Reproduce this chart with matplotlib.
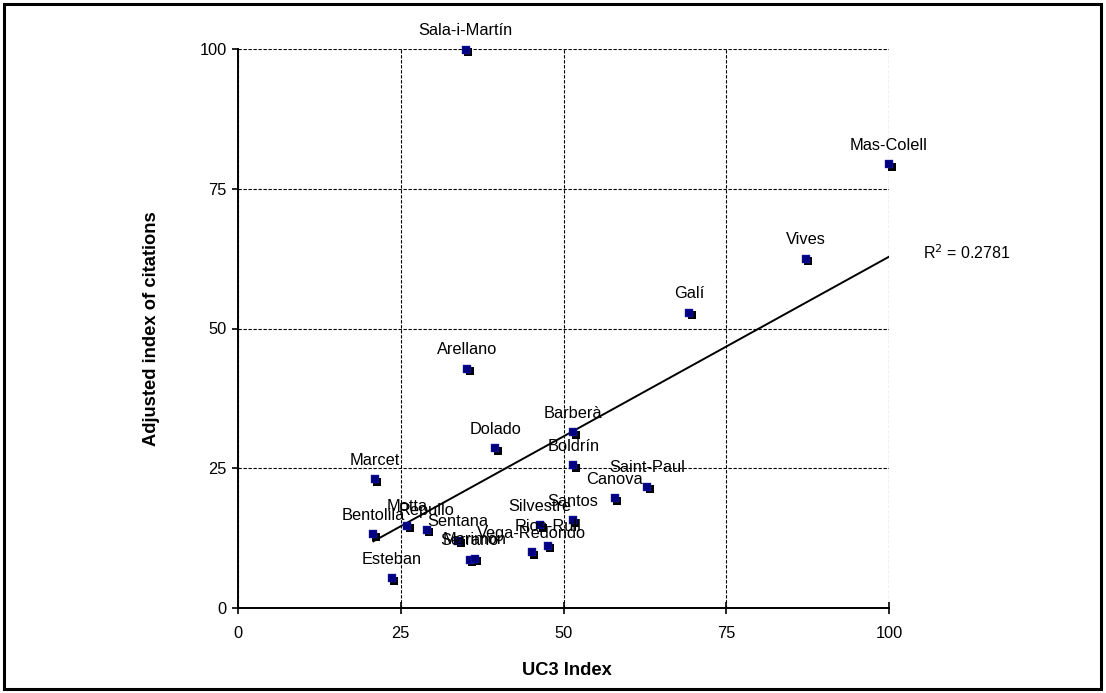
import numpy as np
import matplotlib
matplotlib.use("Agg")
import matplotlib.pyplot as plt
import matplotlib.transforms as mtransforms
from matplotlib.patches import Rectangle

plt.rcParams['font.family'] = ['Liberation Sans', 'DejaVu Sans']

# data
names = ['Sala-i-Martín', 'Mas-Colell', 'Vives', 'Galí', 'Arellano', 'Dolado',
         'Barberà', 'Boldrín', 'Marcet', 'Saint-Paul', 'Canova', 'Santos',
         'Silvestre', 'Rios-Rull', 'Vega-Redondo', 'Motta', 'Repullo',
         'Bentolila', 'Sentana', 'Serrano', 'Marimón', 'Esteban']
uc3 = [35.0, 100.0, 87.2, 69.3, 35.2, 39.5,
       51.5, 51.5, 21.0, 62.9, 57.9, 51.4,
       46.4, 47.6, 45.1, 26.0, 29.0,
       20.8, 33.8, 35.6, 36.4, 23.6]
citations = [99.9, 79.4, 62.5, 52.8, 42.8, 28.6,
             31.4, 25.5, 23.0, 21.7, 19.6, 15.7,
             14.8, 11.1, 10.0, 14.7, 14.0,
             13.2, 12.0, 8.6, 8.8, 5.3]
ticks = [0, 25, 50, 75, 100]
r2_text = 0.2781

x = np.array(uc3)
y = np.array(citations)

fig = plt.figure(figsize=(11.06, 6.93), dpi=100)
ax = fig.add_axes([238/1106, 85/693, 651/1106, 559/693])

ax.set_xlim(0, 100)
ax.set_ylim(0, 100)
ax.set_xticks(ticks)
ax.set_yticks(ticks)
ax.grid(True, color='black', linestyle=(0, (3, 1.5)), linewidth=0.8)
ax.set_axisbelow(True)
for s in ['top', 'right']:
    ax.spines[s].set_visible(False)
for s in ['left', 'bottom']:
    ax.spines[s].set_linewidth(1.4)
ax.tick_params(axis='x', direction='inout', length=8, width=1.2, pad=9, labelsize=11.8)
ax.tick_params(axis='y', direction='out', length=4, width=1.2, pad=4, labelsize=11.8)

ax.set_xlabel('UC3 Index', fontsize=13.2, fontweight='bold')
ax.set_ylabel('Adjusted index of citations', fontsize=13.2, fontweight='bold')
ax.xaxis.set_label_coords(0.505, -0.097)
ax.yaxis.set_label_coords(-0.12, 0.5)

# linear trendline
slope, intercept = np.polyfit(x, y, 1)
xs = np.array([x.min(), x.max()])
ax.plot(xs, slope * xs + intercept, color='black', lw=1.4, zorder=3)

# markers with drop shadow
shadow = ax.transData + mtransforms.ScaledTranslation(2.5/100, -2.5/100, fig.dpi_scale_trans)
ax.plot(x, y, 's', color='black', ms=5.5, mew=0, transform=shadow, clip_on=False, zorder=4)
ax.plot(x, y, 's', color='#000080', ms=5.5, mew=0.3, mec='#3030c0', clip_on=False, zorder=5)

for n, xi, yi in zip(names, uc3, citations):
    ax.annotate(n, (xi, yi), xytext=(0, 10.5), textcoords='offset points',
                ha='center', va='baseline', fontsize=11.8, zorder=6,
                annotation_clip=False)

ax.text(923/1106, (693-253)/693, 'R$^2$ = %.4f' % r2_text, transform=fig.transFigure,
        ha='left', va='center', fontsize=11.5)

fig.patches.append(Rectangle((4/1106, 4/693), 1097/1106, 685/693, transform=fig.transFigure,
                             fill=False, edgecolor='black', linewidth=2.2))

fig.savefig('out.png', dpi=100)
